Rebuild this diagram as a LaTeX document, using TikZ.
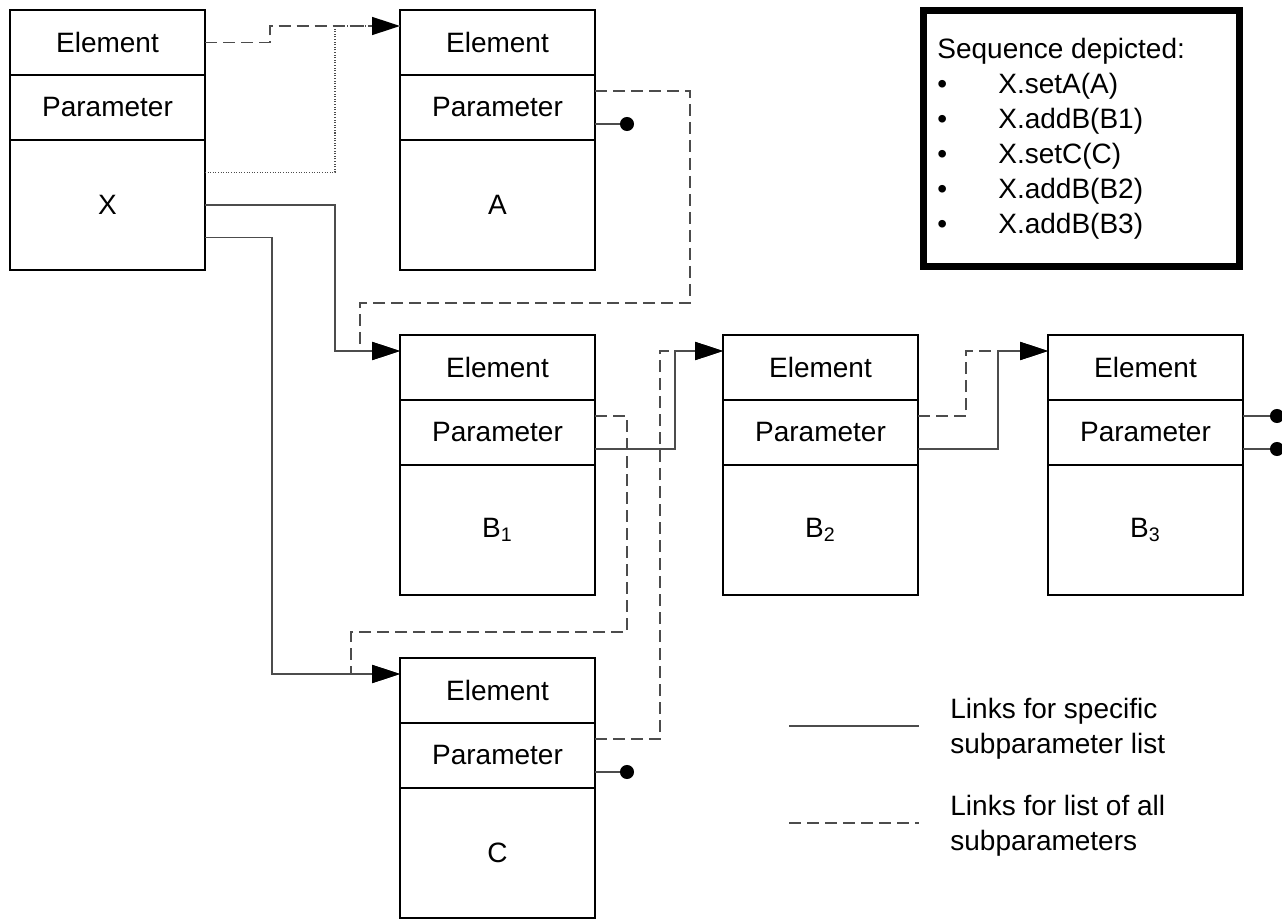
\documentclass[tikz,border=0pt]{standalone}
\usepackage{fontspec}
\setmainfont{Liberation Sans}
\usetikzlibrary{arrows.meta}

\tikzset{
  cell/.style={draw, line width=1pt, minimum width=97.5pt, minimum height=32.5pt, inner sep=0pt, outer sep=0pt},
  body/.style={cell, minimum height=65pt},
  onelink/.style={draw=black!70, line width=0.8pt},
  alllink/.style={onelink, dash pattern=on 6pt off 3pt},
  dotlink/.style={onelink, dash pattern=on 0.5pt off 0.8pt},
  arrowin/.style={-{Triangle[length=14pt,width=9pt,black]}},
  dotend/.style={-{Circle[length=7pt,black]}}
}

\begin{document}
\begin{tikzpicture}
[x=0.5pt,y=-0.5pt,font=\fontsize{14}{17.5}\selectfont]
\useasboundingbox (0,0) rectangle (1282,920);
\foreach \n/\x/\y/\t in {X/107.5/10/X, A/497.5/10/A, B1/497.5/335/B\textsubscript{1}, B2/820.5/335/B\textsubscript{2}, B3/1145.5/335/B\textsubscript{3}, C/497.5/658/C}
{
\node[cell, anchor=north] (\n-e) at (\x,\y) {Element};
\node[cell, anchor=north] (\n-p) at (\n-e.south) {Parameter};
\node[body, anchor=north] (\n-b) at (\n-p.south) {\t};
\coordinate (\n-in) at ([yshift=-8pt]\n-e.north west);
\coordinate (\n-a) at ([yshift=-8pt]\n-p.north east);
\coordinate (\n-s) at ([yshift=8pt]\n-p.south east);
}
% links out of X
\draw[dotlink] ([yshift=-16.25pt]X-b.north east) -- ++(130,0) |- (A-in);
\draw[alllink, arrowin] (X-e.east) -- ++(65,0) |- (A-in);
\draw[onelink, arrowin] (X-b.east) -- ++(130,0) |- (B1-in);
\draw[onelink, arrowin] ([yshift=-16.25pt]X-b.east) -- ++(67,0) |- (C-in);
% links between parameters
\draw[onelink, dotend] (A-s) -- ++(39,0);
\draw[alllink, arrowin] (A-a) -| ++(95,212) -| ([xshift=-20pt]B1-in) -- (B1-in);
\draw[alllink, arrowin] (B1-a) -| ++(32,216) -| ([xshift=-24.5pt]C-in) -- (C-in);
\draw[alllink, arrowin] (C-a) -- ++(65,0) |- (B2-in);
\draw[onelink, arrowin] (B1-s) -- ++(80,0) |- (B2-in);
\draw[onelink, dotend] (C-s) -- ++(39,0);
\draw[alllink, arrowin] (B2-a) -- ++(48,0) |- (B3-in);
\draw[onelink, arrowin] (B2-s) -- ++(80,0) |- (B3-in);
\draw[onelink, dotend] (B3-a) -- ++(41,0);
\draw[onelink, dotend] (B3-s) -- ++(41,0);
% sequence box
\node[draw, line width=3.5pt, minimum width=158pt, minimum height=128pt, inner sep=0pt] (seq) at (1081.5,138.5) {};
\node[anchor=west, inner sep=0pt] (seqtxt) at (937,139) {\begin{tabular}{@{}p{30.5pt}@{}l@{}}
\multicolumn{2}{@{}l@{}}{Sequence depicted:}\\
\textbullet & X.setA(A)\\
\textbullet & X.addB(B1)\\
\textbullet & X.setC(C)\\
\textbullet & X.addB(B2)\\
\textbullet & X.addB(B3)
\end{tabular}};
% legend
\node[anchor=west, align=left, inner sep=0pt] (lone) at (950,729) {Links for specific\\subparameter list};
\node[anchor=west, align=left, inner sep=0pt] (lall) at (950,826) {Links for list of all\\subparameters};
\coordinate (lone-s) at (789,726);
\coordinate (lall-s) at (789,823);
\draw[onelink] (lone-s) -- ++(130,0);
\draw[alllink] (lall-s) -- ++(130,0);
\end{tikzpicture}
\end{document}
